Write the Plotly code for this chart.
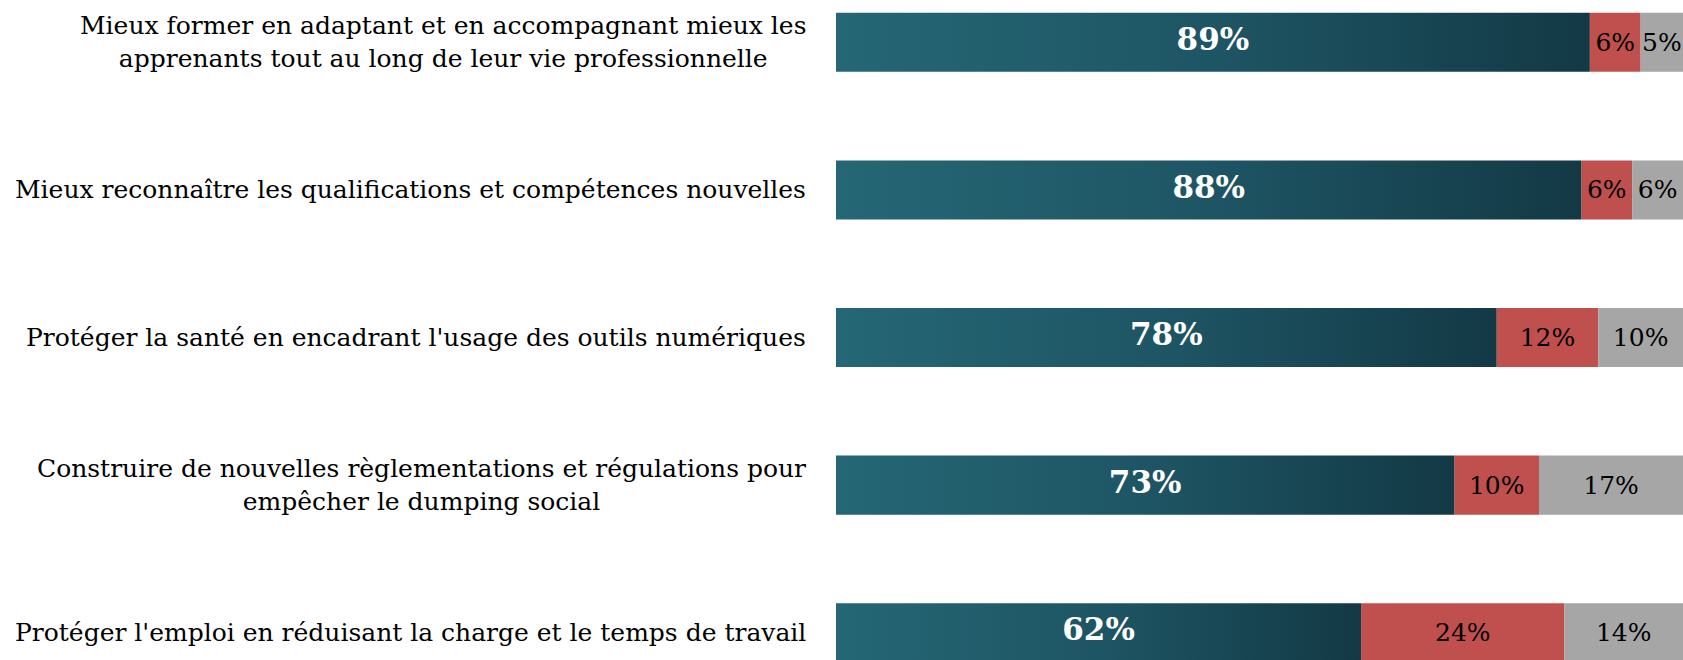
import plotly.graph_objects as go

categories = [
    "Mieux former en adaptant et en accompagnant mieux les<br>apprenants tout au long de leur vie professionnelle",
    "Mieux reconnaître les qualifications et compétences nouvelles",
    "Protéger la santé en encadrant l'usage des outils numériques",
    "Construire de nouvelles règlementations et régulations pour<br>empêcher le dumping social",
    "Protéger l'emploi en réduisant la charge et le temps de travail",
]
oui = [89, 88, 78, 73, 62]
non = [6, 6, 12, 10, 24]
nsp = [5, 6, 10, 17, 14]

TEAL_SCALE = [[0, "#256775"], [0.5, "#1e5564"], [1, "#133945"]]
RED = "#c0504d"
GREY = "#a6a6a6"
FONT = "DejaVu Serif"
BAR_W = 0.4

n = len(categories)
ys = [n - 1 - i for i in range(n)]

fig = go.Figure()

# teal bars with horizontal gradient
for y, v in zip(ys, oui):
    fig.add_trace(go.Scatter(
        x=[0, v, v, 0, 0],
        y=[y - BAR_W / 2, y - BAR_W / 2, y + BAR_W / 2, y + BAR_W / 2, y - BAR_W / 2],
        mode="lines", line=dict(width=0), fill="toself",
        fillgradient=dict(type="horizontal", colorscale=TEAL_SCALE),
        hoverinfo="skip", showlegend=False,
    ))

fig.add_trace(go.Scatter(
    x=[v / 2 for v in oui], y=ys, mode="text",
    text=[f"<b>{v}%</b>" for v in oui],
    textfont=dict(family=FONT, size=31, color="white"),
    hoverinfo="skip", showlegend=False,
))

fig.add_trace(go.Bar(
    x=non, y=ys, base=oui, orientation="h", width=BAR_W,
    marker=dict(color=RED, line=dict(width=0)),
    text=[f"{v}%" for v in non], textposition="inside", insidetextanchor="middle",
    constraintext="none", textangle=0,
    textfont=dict(family=FONT, size=25, color="black"),
    hoverinfo="skip", showlegend=False,
))
fig.add_trace(go.Bar(
    x=nsp, y=ys, base=[a + b for a, b in zip(oui, non)], orientation="h", width=BAR_W,
    marker=dict(color=GREY, line=dict(width=0)),
    text=[f"{v}%" for v in nsp], textposition="inside", insidetextanchor="middle",
    constraintext="none", textangle=0,
    textfont=dict(family=FONT, size=25, color="black"),
    hoverinfo="skip", showlegend=False,
))

for y, c in zip(ys, categories):
    fig.add_annotation(
        x=0, y=y, xref="paper", yref="y", text=c, showarrow=False,
        xanchor="right", yanchor="middle", align="center", xshift=-28,
        font=dict(family=FONT, size=25, color="black"),
    )

fig.update_layout(
    width=1683, height=660,
    margin=dict(l=836, r=0, t=0, b=0, pad=0),
    paper_bgcolor="white", plot_bgcolor="white",
    barmode="overlay",
    xaxis=dict(range=[0, 100], visible=False, fixedrange=True),
    yaxis=dict(range=[-0.185, 4.287], visible=False, fixedrange=True),
)

fig.write_html(
    "out.html",
    config={"displayModeBar": False},
    post_script="document.body.style.margin='0';document.body.style.overflow='hidden';",
)
